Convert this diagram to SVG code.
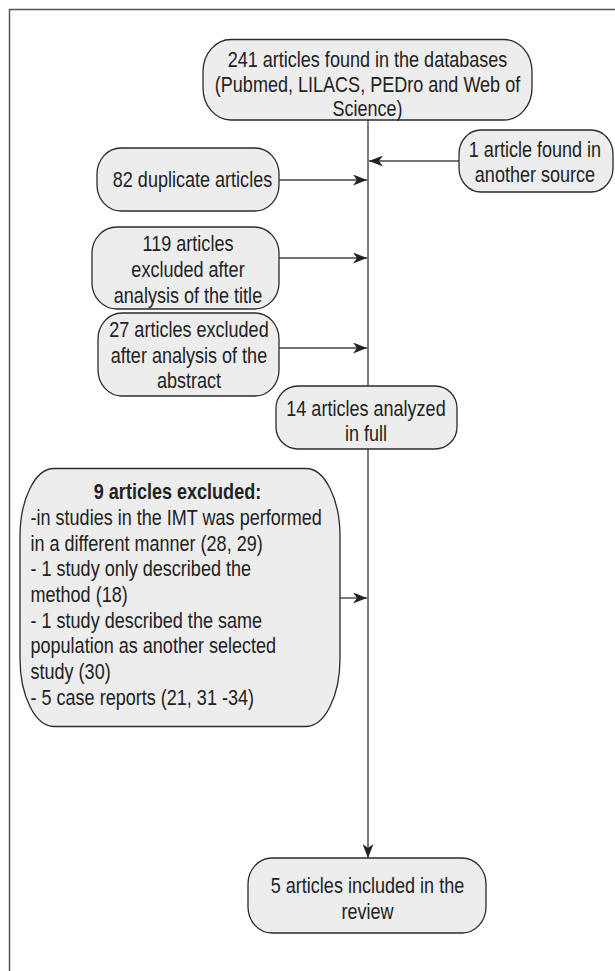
<svg xmlns="http://www.w3.org/2000/svg" width="615" height="971" viewBox="0 0 615 971">
  <style>
    .box { fill: #ededed; stroke: #2b2b2b; stroke-width: 1.3; }
    .t { font-family: "Liberation Sans Narrow", "Liberation Sans", Arial, sans-serif; font-size: 22px; fill: #222; }
    .c { text-anchor: middle; }
    .b { font-weight: bold; }
    .conn { stroke: #444; stroke-width: 1.4; fill: none; }
  </style>
  <defs>
    <marker id="ah" viewBox="0 0 14 11" refX="14" refY="5.5" markerWidth="14" markerHeight="11" markerUnits="userSpaceOnUse" orient="auto">
      <path d="M0,0 L14,5.5 L0,11 L4,5.5 Z" fill="#222"/>
    </marker>
  </defs>
  <rect x="0" y="0" width="615" height="971" fill="#ffffff"/>
  <path d="M9.5,975 L9.5,9.5 L620,9.5" fill="none" stroke="#555" stroke-width="1.5"/>

  <g id="connectors">
    <line class="conn" x1="368" y1="120" x2="368" y2="386"/>
    <line class="conn" x1="368" y1="449" x2="368" y2="858" marker-end="url(#ah)"/>
    <line class="conn" x1="459" y1="161" x2="369" y2="161" marker-end="url(#ah)"/>
    <line class="conn" x1="279" y1="180" x2="367" y2="180" marker-end="url(#ah)"/>
    <line class="conn" x1="279" y1="258" x2="367" y2="258" marker-end="url(#ah)"/>
    <line class="conn" x1="279" y1="348" x2="367" y2="348" marker-end="url(#ah)"/>
    <line class="conn" x1="340" y1="598" x2="367" y2="598" marker-end="url(#ah)"/>
  </g>

  <g id="n-databases">
    <rect class="box" x="203" y="39.5" width="329" height="80.5" rx="28" ry="32"/>
    <g transform="scale(0.82,1)">
      <text class="t c" x="448.17" y="67">241 articles found in the databases</text>
      <text class="t c" x="448.17" y="92.5">(Pubmed, LILACS, PEDro and Web of</text>
      <text class="t c" x="448.17" y="116.5">Science)</text>
    </g>
  </g>

  <g id="n-other-source">
    <rect class="box" x="459" y="130" width="154" height="62" rx="22" ry="24"/>
    <g transform="scale(0.82,1)">
      <text class="t c" x="652.44" y="157">1 article found in</text>
      <text class="t c" x="652.44" y="182">another source</text>
    </g>
  </g>

  <g id="n-duplicates">
    <rect class="box" x="97" y="148" width="182" height="63" rx="24" ry="26"/>
    <g transform="scale(0.82,1)">
      <text class="t c" x="234.76" y="187">82 duplicate articles</text>
    </g>
  </g>

  <g id="n-title-excluded">
    <rect class="box" x="92" y="227" width="187" height="82" rx="25" ry="26"/>
    <g transform="scale(0.82,1)">
      <text class="t c" x="229.27" y="251.5">119 articles</text>
      <text class="t c" x="229.27" y="277.5">excluded after</text>
      <text class="t c" x="229.27" y="303">analysis of the title</text>
    </g>
  </g>

  <g id="n-abstract-excluded">
    <rect class="box" x="98" y="313" width="181" height="83" rx="24" ry="26"/>
    <g transform="scale(0.82,1)">
      <text class="t c" x="230.49" y="337.5">27 articles excluded</text>
      <text class="t c" x="230.49" y="363">after analysis of the</text>
      <text class="t c" x="230.49" y="388.5">abstract</text>
    </g>
  </g>

  <g id="n-full">
    <rect class="box" x="276" y="386" width="181" height="63" rx="22" ry="22"/>
    <g transform="scale(0.82,1)">
      <text class="t c" x="446.34" y="416">14 articles analyzed</text>
      <text class="t c" x="446.34" y="441">in full</text>
    </g>
  </g>

  <g id="n-nine-excluded">
    <rect class="box" x="20" y="468.5" width="320" height="258" rx="34" ry="68"/>
    <g transform="scale(0.82,1)">
      <text class="t c b" x="216.46" y="499.5">9 articles excluded:</text>
      <text class="t" x="37.2" y="525">-in studies in the IMT was performed</text>
      <text class="t" x="37.2" y="550.7">in a different manner (28, 29)</text>
      <text class="t" x="37.2" y="576.4">- 1 study only described the</text>
      <text class="t" x="37.2" y="602">method (18)</text>
      <text class="t" x="37.2" y="627.7">- 1 study described the same</text>
      <text class="t" x="37.2" y="653.4">population as another selected</text>
      <text class="t" x="37.2" y="679">study (30)</text>
      <text class="t" x="37.2" y="704.7">- 5 case reports (21, 31 -34)</text>
    </g>
  </g>

  <g id="n-included">
    <rect class="box" x="248" y="858" width="238" height="75" rx="24" ry="26"/>
    <g transform="scale(0.82,1)">
      <text class="t c" x="448.17" y="893">5 articles included in the</text>
      <text class="t c" x="448.17" y="919">review</text>
    </g>
  </g>
</svg>
